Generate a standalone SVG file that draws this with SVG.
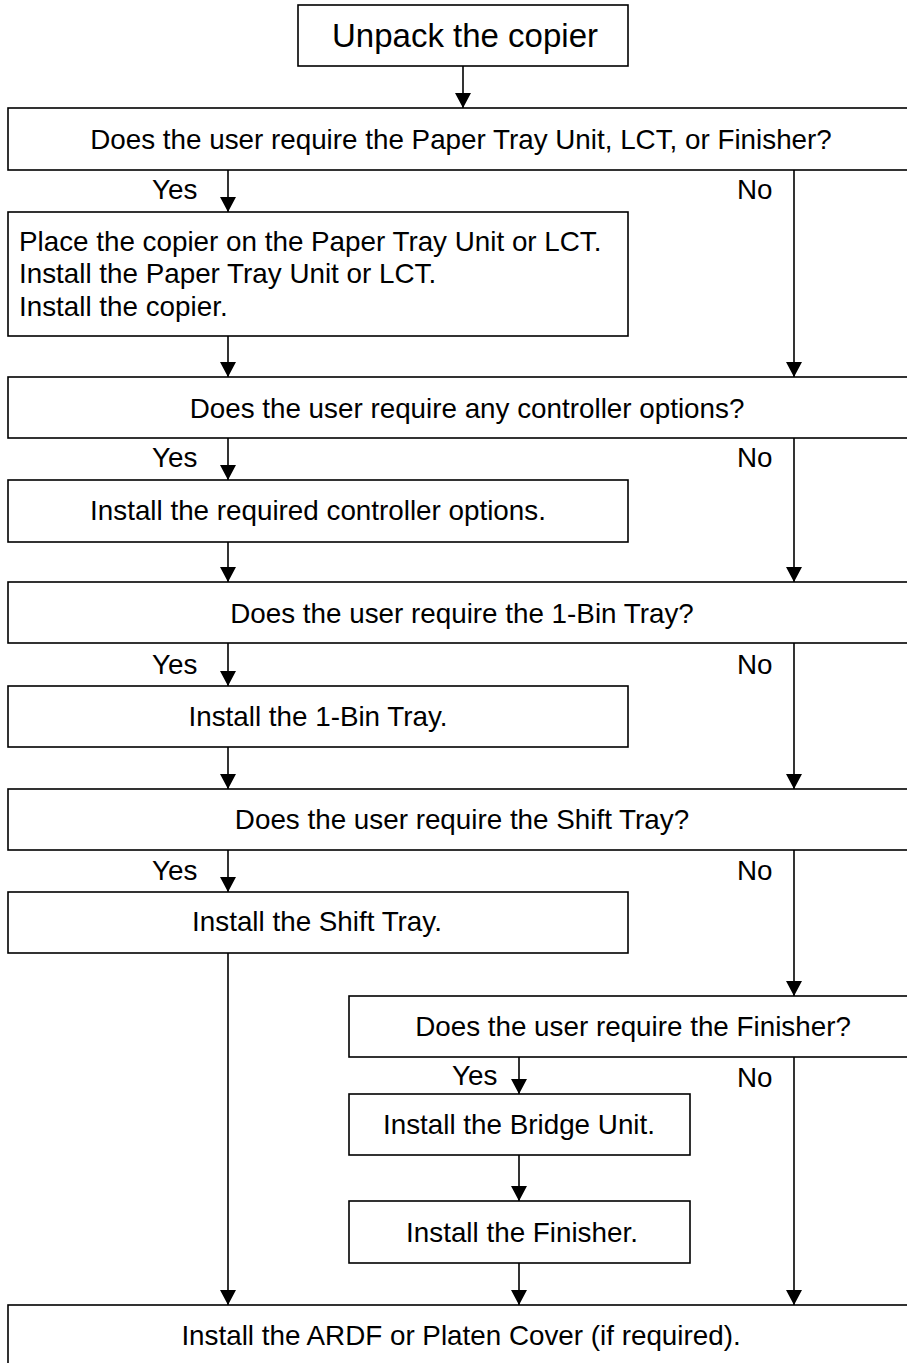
<svg xmlns="http://www.w3.org/2000/svg" width="907" height="1363" viewBox="0 0 907 1363">
<style>
.box{fill:#fff;stroke:#000;stroke-width:1.6}
.t{font-family:"Liberation Sans",Arial,sans-serif;font-size:27.8px;fill:#000}
.m{text-anchor:middle}
.c{fill:none;stroke:#000;stroke-width:1.6}
</style>
<defs>
<marker id="arr" viewBox="0 0 16 17" refX="16" refY="8.5" markerWidth="17" markerHeight="16" markerUnits="userSpaceOnUse" orient="auto">
<path d="M0,0 L16,8.5 L0,17 z" fill="#000"/>
</marker>
</defs>
<rect width="907" height="1363" fill="#fff"/>
<g id="connectors">
<line class="c" x1="463" y1="66" x2="463" y2="108" marker-end="url(#arr)"/>
<line class="c" x1="228" y1="170" x2="228" y2="212" marker-end="url(#arr)"/>
<line class="c" x1="794" y1="170" x2="794" y2="377" marker-end="url(#arr)"/>
<line class="c" x1="228" y1="336" x2="228" y2="377" marker-end="url(#arr)"/>
<line class="c" x1="228" y1="438" x2="228" y2="480" marker-end="url(#arr)"/>
<line class="c" x1="794" y1="438" x2="794" y2="582" marker-end="url(#arr)"/>
<line class="c" x1="228" y1="542" x2="228" y2="582" marker-end="url(#arr)"/>
<line class="c" x1="228" y1="643" x2="228" y2="686" marker-end="url(#arr)"/>
<line class="c" x1="794" y1="643" x2="794" y2="789" marker-end="url(#arr)"/>
<line class="c" x1="228" y1="747" x2="228" y2="789" marker-end="url(#arr)"/>
<line class="c" x1="228" y1="850" x2="228" y2="892" marker-end="url(#arr)"/>
<line class="c" x1="794" y1="850" x2="794" y2="996" marker-end="url(#arr)"/>
<line class="c" x1="228" y1="953" x2="228" y2="1305" marker-end="url(#arr)"/>
<line class="c" x1="519" y1="1057" x2="519" y2="1094" marker-end="url(#arr)"/>
<line class="c" x1="794" y1="1057" x2="794" y2="1305" marker-end="url(#arr)"/>
<line class="c" x1="519" y1="1155" x2="519" y2="1201" marker-end="url(#arr)"/>
<line class="c" x1="519" y1="1263" x2="519" y2="1305" marker-end="url(#arr)"/>
<text class="t" x="152" y="199">Yes</text>
<text class="t" x="737" y="199">No</text>
<text class="t" x="152" y="467">Yes</text>
<text class="t" x="737" y="467">No</text>
<text class="t" x="152" y="674">Yes</text>
<text class="t" x="737" y="674">No</text>
<text class="t" x="152" y="880">Yes</text>
<text class="t" x="737" y="880">No</text>
<text class="t" x="452" y="1085">Yes</text>
<text class="t" x="737" y="1087">No</text>
</g>
<g id="n-unpack">
<rect class="box" x="298" y="5" width="330" height="61"/>
<text class="t m" x="465" y="47" style="font-size:33px">Unpack the copier</text>
</g>
<g id="d-ptu">
<rect class="box" x="8" y="108" width="910" height="62"/>
<text class="t m" x="461" y="149">Does the user require the Paper Tray Unit, LCT, or Finisher?</text>
</g>
<g id="n-ptu">
<rect class="box" x="8" y="212" width="620" height="124"/>
<text class="t" x="19" y="251">Place the copier on the Paper Tray Unit or LCT.</text>
<text class="t" x="19" y="283">Install the Paper Tray Unit or LCT.</text>
<text class="t" x="19" y="316">Install the copier.</text>
</g>
<g id="d-ctrl">
<rect class="box" x="8" y="377" width="910" height="61"/>
<text class="t m" x="467" y="418">Does the user require any controller options?</text>
</g>
<g id="n-ctrl">
<rect class="box" x="8" y="480" width="620" height="62"/>
<text class="t m" x="318" y="520">Install the required controller options.</text>
</g>
<g id="d-bin">
<rect class="box" x="8" y="582" width="910" height="61"/>
<text class="t m" x="462" y="623">Does the user require the 1-Bin Tray?</text>
</g>
<g id="n-bin">
<rect class="box" x="8" y="686" width="620" height="61"/>
<text class="t m" x="318" y="726">Install the 1-Bin Tray.</text>
</g>
<g id="d-shift">
<rect class="box" x="8" y="789" width="910" height="61"/>
<text class="t m" x="462" y="829">Does the user require the Shift Tray?</text>
</g>
<g id="n-shift">
<rect class="box" x="8" y="892" width="620" height="61"/>
<text class="t m" x="317" y="931">Install the Shift Tray.</text>
</g>
<g id="d-fin">
<rect class="box" x="349" y="996" width="569" height="61"/>
<text class="t m" x="633" y="1036">Does the user require the Finisher?</text>
</g>
<g id="n-bridge">
<rect class="box" x="349" y="1094" width="341" height="61"/>
<text class="t m" x="519" y="1134">Install the Bridge Unit.</text>
</g>
<g id="n-fin">
<rect class="box" x="349" y="1201" width="341" height="62"/>
<text class="t m" x="522" y="1242">Install the Finisher.</text>
</g>
<g id="n-ardf">
<rect class="box" x="8" y="1305" width="910" height="70"/>
<text class="t m" x="461" y="1345">Install the ARDF or Platen Cover (if required).</text>
</g>
</svg>
